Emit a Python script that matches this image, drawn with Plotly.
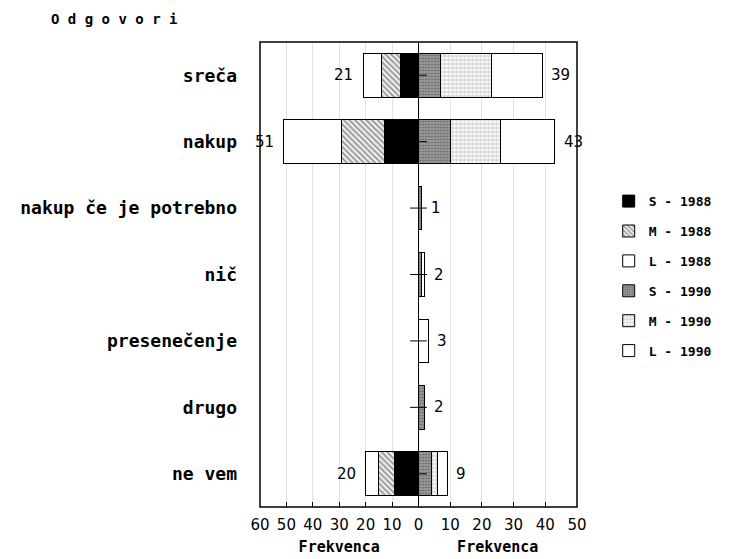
import plotly.graph_objects as go
from plotly.subplots import make_subplots

categories = ["sreča", "nakup", "nakup če je potrebno", "nič", "presenečenje", "drugo", "ne vem"]
s_1988 = [7, 13, None, None, None, None, 9]
m_1988 = [7, 16, None, None, None, None, 6]
l_1988 = [7, 22, None, None, None, None, 5]
s_1990 = [7, 10, 1, 1, None, 2, 4]
m_1990 = [16, 16, None, None, None, None, 2]
l_1990 = [16, 17, None, 1, 3, None, 3]
left_ticks = [60, 50, 40, 30, 20, 10, 0]
right_ticks = [10, 20, 30, 40, 50]

def total(*cols):
    return [sum(v or 0 for v in vals) for vals in zip(*cols)]

tot88 = total(s_1988, m_1988, l_1988)
tot90 = total(s_1990, m_1990, l_1990)

fig = make_subplots(rows=1, cols=2, shared_yaxes=True, horizontal_spacing=0)

line = dict(color="black", width=1)
styles = {
    "S": dict(color="black", line=line),
    "M88": dict(color="white", line=line,
                pattern=dict(shape="\\", fgcolor="#333", bgcolor="#eee", size=4, solidity=0.4)),
    "L": dict(color="white", line=line),
    "S90": dict(color="#888", line=line,
                pattern=dict(shape=".", fgcolor="#333", bgcolor="#aaa", size=3, solidity=0.5)),
    "M90": dict(color="white", line=line,
                pattern=dict(shape="+", fgcolor="#666", bgcolor="white", size=4, solidity=0.3)),
}

series = [
    ("S - 1988", s_1988, styles["S"], 1),
    ("M - 1988", m_1988, styles["M88"], 1),
    ("L - 1988", l_1988, styles["L"], 1),
    ("S - 1990", s_1990, styles["S90"], 2),
    ("M - 1990", m_1990, styles["M90"], 2),
    ("L - 1990", l_1990, styles["L"], 2),
]
for i, (name, vals, mk, col) in enumerate(series):
    fig.add_trace(go.Bar(y=categories, x=vals, orientation="h", name=name, marker=mk,
                         legendgroup=f"g{i}", width=0.66), row=1, col=col)

# small tick marks crossing the center line
fig.add_trace(go.Scatter(x=[0] * len(categories), y=categories, mode="markers",
                         marker=dict(symbol="line-ew", size=12, line=dict(color="black", width=1)),
                         cliponaxis=False, showlegend=False, hoverinfo="skip"), row=1, col=2)

numfont = dict(family="DejaVu Sans", size=15, color="black")
for cat, t in zip(categories, tot88):
    if t:
        fig.add_annotation(x=t, y=cat, xref="x", yref="y", text=str(t), showarrow=False,
                           xanchor="right", xshift=-8, font=numfont)
for cat, t in zip(categories, tot90):
    if t:
        fig.add_annotation(x=t, y=cat, xref="x2", yref="y", text=str(t), showarrow=False,
                           xanchor="left", xshift=7, font=numfont)

fig.add_annotation(x=-0.665, y=1.05, xref="paper", yref="paper", text="<b>O d g o v o r i</b>",
                   showarrow=False, xanchor="left", yanchor="middle",
                   font=dict(family="DejaVu Sans Mono", size=14))

fig.add_shape(type="rect", xref="paper", yref="paper", x0=0, x1=1, y0=0, y1=1,
              line=dict(color="black", width=1.5), layer="above")

tickfont = dict(family="DejaVu Sans", size=15, color="black")
titlefont = dict(family="DejaVu Sans Mono", size=15, color="black")
for col, rng, tv in ((1, [60, 0], left_ticks), (2, [0, 50], right_ticks)):
    fig.update_xaxes(range=rng, tickvals=tv, ticks="inside", ticklen=5, tickcolor="black",
                     showgrid=True, gridcolor="#e2e2e2", zeroline=False, tickfont=tickfont,
                     ticklabelstandoff=7,
                     title=dict(text="<b>Frekvenca</b>", font=titlefont, standoff=8), row=1, col=col)
fig.update_yaxes(categoryorder="array", categoryarray=categories, autorange="reversed",
                 showgrid=False, zeroline=False, ticks="", ticklabelstandoff=22,
                 tickfont=dict(family="DejaVu Sans Mono", size=18, color="black", weight="bold"),
                 row=1, col=1)
fig.update_yaxes(showline=True, linecolor="black", linewidth=1, showticklabels=False,
                 showgrid=False, zeroline=False, row=1, col=2)

fig.update_layout(
    width=738, height=559, barmode="stack", bargap=0.34,
    plot_bgcolor="white", paper_bgcolor="white",
    margin=dict(l=250, r=169, t=34, b=60),
    font=dict(family="DejaVu Sans", color="black"),
    legend=dict(x=1.1, y=0.69, xanchor="left", yanchor="top", traceorder="grouped",
                tracegroupgap=10, font=dict(family="DejaVu Sans Mono", size=13, weight="bold"),
                bgcolor="rgba(0,0,0,0)"),
)

fig.write_html("out.html")
